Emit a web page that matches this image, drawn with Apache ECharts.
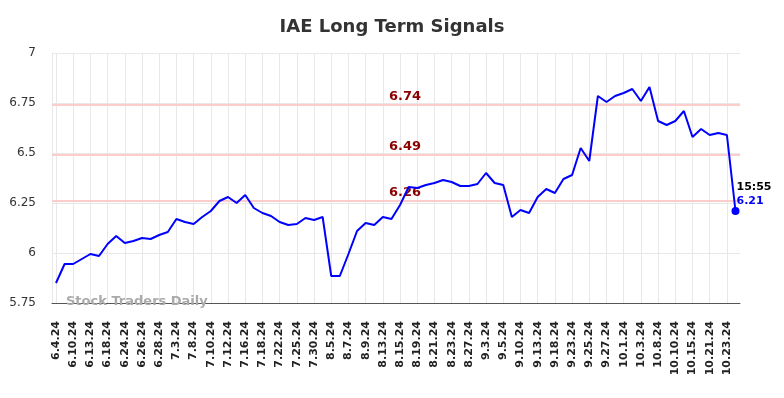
<!DOCTYPE html>
<html>
<head>
<meta charset="utf-8">
<title>IAE Long Term Signals</title>
<script src="https://cdn.jsdelivr.net/npm/echarts@6/dist/echarts.min.js"></script>
<style>
  html, body { margin: 0; padding: 0; background: #fff; }
  #chart { width: 784px; height: 398px; }
</style>
</head>
<body>
<div id="chart"></div>
<script>
// dates (every other one is labelled on the axis)
var dates = [
  '6.4.24', '6.6.24', '6.10.24', '6.11.24', '6.13.24', '6.14.24', '6.18.24', '6.20.24',
  '6.24.24', '6.25.24', '6.26.24', '6.27.24', '6.28.24', '7.1.24', '7.3.24', '7.5.24',
  '7.8.24', '7.9.24', '7.10.24', '7.11.24', '7.12.24', '7.15.24', '7.16.24', '7.17.24',
  '7.18.24', '7.19.24', '7.22.24', '7.23.24', '7.25.24', '7.26.24', '7.30.24', '8.1.24',
  '8.5.24', '8.6.24', '8.7.24', '8.8.24', '8.9.24', '8.12.24', '8.13.24', '8.14.24',
  '8.15.24', '8.16.24', '8.19.24', '8.20.24', '8.21.24', '8.22.24', '8.23.24', '8.26.24',
  '8.27.24', '8.29.24', '9.3.24', '9.4.24', '9.5.24', '9.6.24', '9.10.24', '9.11.24',
  '9.13.24', '9.16.24', '9.18.24', '9.19.24', '9.23.24', '9.24.24', '9.25.24', '9.26.24',
  '9.27.24', '9.30.24', '10.1.24', '10.2.24', '10.3.24', '10.4.24', '10.8.24', '10.9.24',
  '10.10.24', '10.11.24', '10.15.24', '10.17.24', '10.21.24', '10.22.24', '10.23.24', '10.24.24'
];

// price line
var prices = [
  5.85, 5.945, 5.945, 5.97, 5.995, 5.985, 6.045, 6.085, 6.05, 6.06,
  6.075, 6.07, 6.09, 6.105, 6.17, 6.155, 6.145, 6.18, 6.21, 6.26,
  6.28, 6.25, 6.29, 6.225, 6.2, 6.185, 6.155, 6.14, 6.145, 6.175,
  6.165, 6.18, 5.885, 5.885, 5.995, 6.11, 6.15, 6.14, 6.18, 6.17,
  6.24, 6.33, 6.325, 6.34, 6.35, 6.365, 6.355, 6.335, 6.335, 6.345,
  6.40, 6.35, 6.34, 6.18, 6.215, 6.2, 6.28, 6.32, 6.30, 6.37,
  6.39, 6.525, 6.46, 6.785, 6.755, 6.785, 6.80, 6.82, 6.76, 6.83,
  6.66, 6.64, 6.66, 6.71, 6.58, 6.62, 6.59, 6.60, 6.59, 6.21
];

// signal levels
var signals = [6.74, 6.49, 6.26];

var lastTime = '15:55';
var yTicks = { min: 5.75, max: 7, step: 0.25 };

var font = 'DejaVu Sans';
var chart = echarts.init(document.getElementById('chart'));

var lastIdx = prices.length - 1;
var lastVal = prices[lastIdx];

var option = {
  animation: false,
  title: {
    text: 'IAE Long Term Signals',
    left: 'center',
    top: 13,
    textStyle: { fontFamily: font, fontSize: 18, fontWeight: 'bold', color: '#333' }
  },
  graphic: [{
    type: 'text',
    left: 66,
    top: 295,
    z: 10,
    style: {
      text: 'Stock Traders Daily',
      fontFamily: font,
      fontSize: 13,
      fontWeight: 'bold',
      fill: '#aaaaaa'
    }
  }],
  grid: [
    // outer frame: y axis, horizontal grid, signal lines
    { left: 52, right: 44, top: 53, bottom: 95 },
    // inner: price line and date axis
    { left: 56, right: 48.5, top: 53, bottom: 95 }
  ],
  xAxis: [
    {
      gridIndex: 0,
      type: 'value',
      min: 0,
      max: 1,
      axisLine: { show: true, onZero: false, lineStyle: { color: '#555', width: 1 } },
      axisTick: { show: false },
      axisLabel: { show: false },
      splitLine: { show: false }
    },
    {
      gridIndex: 1,
      type: 'category',
      data: dates,
      boundaryGap: false,
      axisLine: { show: false },
      axisTick: { show: false },
      axisLabel: {
        interval: 1,
        rotate: 90,
        margin: 18,
        fontFamily: font,
        fontSize: 11,
        fontWeight: 'bold',
        color: '#222'
      },
      splitLine: { show: true, lineStyle: { color: '#e8e8e8', width: 1 } }
    }
  ],
  yAxis: [
    {
      gridIndex: 0,
      type: 'value',
      min: yTicks.min,
      max: yTicks.max,
      interval: yTicks.step,
      axisLine: { show: true, lineStyle: { color: '#e8e8e8' } },
      axisTick: { show: false },
      axisLabel: { margin: 16, fontFamily: font, fontSize: 12, color: '#333' },
      splitLine: { show: true, lineStyle: { color: '#e8e8e8', width: 1 } }
    },
    {
      gridIndex: 1,
      type: 'value',
      min: yTicks.min,
      max: yTicks.max,
      interval: yTicks.step,
      show: false,
      splitLine: { show: false }
    }
  ],
  series: [
    {
      name: 'signals',
      type: 'line',
      xAxisIndex: 0,
      yAxisIndex: 0,
      data: [],
      silent: true,
      markLine: {
        silent: true,
        symbol: 'none',
        lineStyle: { color: '#ffcccc', width: 2, type: 'solid' },
        label: {
          show: true,
          position: 'insideMiddleTop',
          distance: 2,
          offset: [9, 0],
          formatter: function (p) { return p.value.toFixed(2); },
          fontFamily: font,
          fontSize: 13,
          fontWeight: 'bold',
          color: '#8b0000'
        },
        data: signals.map(function (s) { return { yAxis: s }; })
      }
    },
    {
      name: 'IAE',
      type: 'line',
      xAxisIndex: 1,
      yAxisIndex: 1,
      data: prices,
      showSymbol: false,
      z: 5,
      lineStyle: { color: '#0000ff', width: 2 },
      itemStyle: { color: '#0000ff' }
    },
    {
      name: 'last',
      type: 'scatter',
      xAxisIndex: 1,
      yAxisIndex: 1,
      z: 6,
      symbol: 'circle',
      symbolSize: 8,
      itemStyle: { color: '#0000ff', opacity: 1 },
      data: [[lastIdx, lastVal]],
      label: {
        show: true,
        position: [5, -27],
        align: 'left',
        verticalAlign: 'top',
        formatter: '{t|' + lastTime + '}\n{v|' + lastVal.toFixed(2) + '}',
        rich: {
          t: { fontFamily: font, fontSize: 11, fontWeight: 'bold', color: '#000', lineHeight: 14 },
          v: { fontFamily: font, fontSize: 11, fontWeight: 'bold', color: '#0000ff', lineHeight: 14 }
        }
      }
    }
  ]
};

chart.setOption(option);
</script>
</body>
</html>
